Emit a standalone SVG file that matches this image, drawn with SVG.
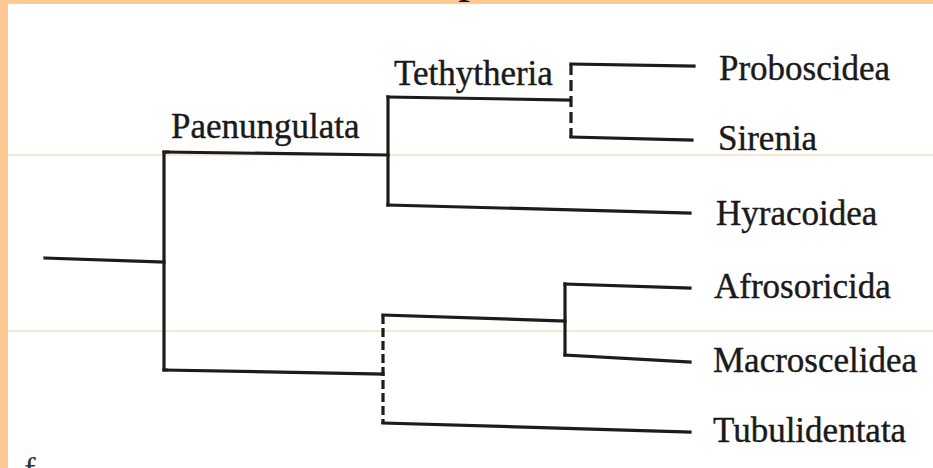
<svg xmlns="http://www.w3.org/2000/svg" width="933" height="468" viewBox="0 0 933 468">
<style>
.br{fill:none;stroke:#1c1c1c;stroke-width:3.2;stroke-linecap:square}
.ds{fill:none;stroke:#1c1c1c;stroke-width:3.2}
.lb{font-family:"Liberation Serif","Times New Roman",serif;font-size:35px;fill:#1a1a1a;stroke:#1a1a1a;stroke-width:0.4}
.gd{stroke:#f6cfa8;stroke-width:1.2}
</style>
<rect width="933" height="468" fill="#ffffff"/>
<rect x="0" y="0" width="933" height="4" fill="#ffc993"/>
<rect x="0" y="0" width="8" height="468" fill="#ffc993"/>
<text x="458" y="-8" font-family="Liberation Serif, serif" font-size="48" fill="#111">p</text>
<text x="24" y="482" font-family="Liberation Serif, serif" font-size="35" fill="#333">f</text>
<line class="gd" x1="8" y1="155" x2="933" y2="155"/>
<line class="gd" x1="8" y1="331" x2="933" y2="331"/>
<g id="connectors">
<polyline class="br" points="45,258 164,262"/>
<polyline class="br" points="168,152 164,152 164,370 166,370"/>
<polyline class="br" points="164,152 388,155"/>
<polyline class="br" points="388,97 388,205"/>
<polyline class="br" points="388,97 570,100"/>
<polyline class="br" points="388,205 690,213"/>
<line class="ds" x1="571" y1="64" x2="571" y2="138" stroke-dasharray="11 5"/>
<polyline class="br" points="571,64 694,66"/>
<polyline class="br" points="571,137 692,140"/>
<polyline class="br" points="164,370 383,374"/>
<line class="ds" x1="383" y1="315" x2="383" y2="424" stroke-dasharray="9 4"/>
<polyline class="br" points="383,315 565,321"/>
<polyline class="br" points="383,423 690,432"/>
<polyline class="br" points="565,284 565,355"/>
<polyline class="br" points="565,284 690,288"/>
<polyline class="br" points="565,355 690,362"/>
</g>
<g id="Paenungulata"><text class="lb" x="171" y="138">Paenungulata</text></g>
<g id="Tethytheria"><text class="lb" x="394" y="85">Tethytheria</text></g>
<g id="Proboscidea"><text class="lb" x="719" y="80">Proboscidea</text></g>
<g id="Sirenia"><text class="lb" x="718" y="150">Sirenia</text></g>
<g id="Hyracoidea"><text class="lb" x="716" y="225">Hyracoidea</text></g>
<g id="Afrosoricida"><text class="lb" x="714" y="298">Afrosoricida</text></g>
<g id="Macroscelidea"><text class="lb" x="713" y="372">Macroscelidea</text></g>
<g id="Tubulidentata"><text class="lb" x="713" y="442">Tubulidentata</text></g>
</svg>
